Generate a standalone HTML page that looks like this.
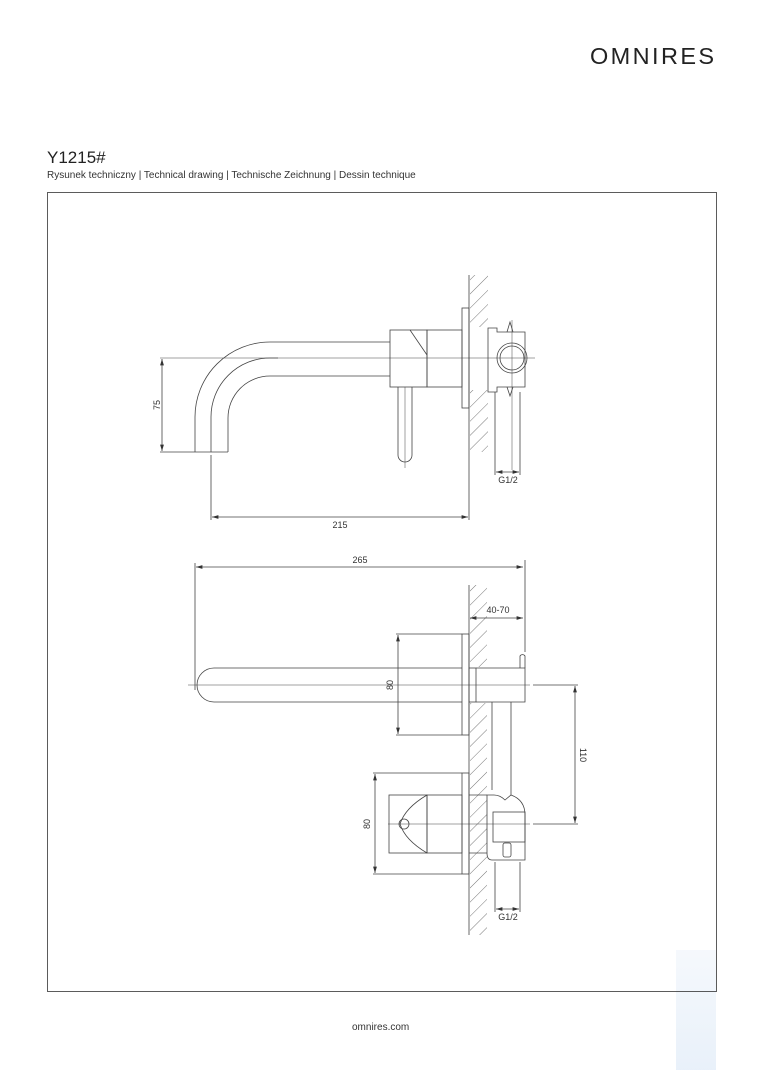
<!DOCTYPE html>
<html><head><meta charset="utf-8"><style>
body{margin:0;background:#fff;width:764px;height:1080px;overflow:hidden;position:relative;font-family:"Liberation Sans",sans-serif;color:#222}
.t{position:absolute;white-space:nowrap}
</style></head><body>
<div class="t" style="left:590px;top:43px;font-size:23.5px;letter-spacing:2.4px;color:#222;line-height:1.15">OMNIRES</div>
<div class="t" style="left:47px;top:148px;font-size:17px;color:#222">Y1215#</div>
<div class="t" style="left:47px;top:170px;font-size:10px;color:#333">Rysunek techniczny | Technical drawing | Technische Zeichnung | Dessin technique</div>
<div class="t" style="left:352px;top:1022px;font-size:10px;color:#333">omnires.com</div>
<div style="position:absolute;left:676px;top:950px;width:40px;height:120px;background:linear-gradient(#f3f7fc,#e3edf8);opacity:.8"></div>
<svg width="764" height="1080" style="position:absolute;left:0;top:0" font-family="Liberation Sans, sans-serif" font-size="9" fill="none" stroke="#444" stroke-width="0.8">
<defs>
<pattern id="h" width="10" height="10" patternUnits="userSpaceOnUse" patternTransform="rotate(45)"><line x1="0" y1="0" x2="0" y2="10" stroke="#555" stroke-width="0.8"/></pattern>
<marker id="a" viewBox="0 0 10 6" refX="10" refY="3" markerWidth="8" markerHeight="5" orient="auto-start-reverse"><path d="M0,0L10,3L0,6z" fill="#333" stroke="none"/></marker>
</defs>
<rect x="47.5" y="192.5" width="669" height="799" stroke="#333"/>
<!-- TOP VIEW -->
<rect x="470" y="275" width="18" height="52" fill="url(#h)" stroke="none"/>
<rect x="470" y="390" width="18" height="62" fill="url(#h)" stroke="none"/>
<line x1="469" y1="275" x2="469" y2="520"/>
<rect x="462" y="308" width="7" height="100"/>
<line x1="160" y1="358" x2="535" y2="358" stroke-width="0.6"/>
<path d="M195,452 V417 A75,75 0 0 1 270,342 H390"/>
<path d="M211,452 V417 A59,59 0 0 1 270,358 H278" />
<path d="M228,452 V418 A42,42 0 0 1 270,376 H390"/>
<line x1="195" y1="452" x2="228" y2="452"/>
<rect x="390" y="330" width="37" height="57"/>
<path d="M410,330 L427,355"/>
<rect x="427" y="330" width="35" height="57"/>
<path d="M398,387 V455 A7,7 0 0 0 412,455 V387"/>
<line x1="405" y1="387" x2="405" y2="468" stroke-width="0.5"/>
<path d="M488,328 H497 V332 H525 V387 H497 V392 H488 Z"/>
<circle cx="512" cy="358" r="15"/><circle cx="512" cy="358" r="12"/>
<path d="M507,332 L510,322 L513,332 M507,387 L510,396 L513,387"/>
<line x1="512" y1="320" x2="512" y2="470" stroke-width="0.5"/>
<line x1="495" y1="392" x2="495" y2="475"/><line x1="520" y1="392" x2="520" y2="475"/>
<line x1="496" y1="472" x2="519" y2="472" marker-start="url(#a)" marker-end="url(#a)"/>
<line x1="160" y1="452" x2="195" y2="452"/>
<line x1="162" y1="359" x2="162" y2="451" marker-start="url(#a)" marker-end="url(#a)"/>
<line x1="211" y1="455" x2="211" y2="520"/>
<line x1="212" y1="517" x2="468" y2="517" marker-start="url(#a)" marker-end="url(#a)"/>
<!-- BOTTOM VIEW -->
<rect x="470" y="585" width="17" height="82" fill="url(#h)" stroke="none"/>
<rect x="470" y="703" width="17" height="232" fill="url(#h)" stroke="none"/>
<line x1="469" y1="585" x2="469" y2="935"/>
<line x1="196" y1="567" x2="523" y2="567" marker-start="url(#a)" marker-end="url(#a)"/>
<line x1="195" y1="563" x2="195" y2="690"/>
<line x1="525" y1="560" x2="525" y2="652"/>
<line x1="470" y1="618" x2="523" y2="618" marker-start="url(#a)" marker-end="url(#a)"/>
<rect x="462" y="634" width="7" height="101"/>
<line x1="396" y1="634" x2="462" y2="634"/><line x1="396" y1="735" x2="462" y2="735"/>
<line x1="398" y1="635" x2="398" y2="734" marker-start="url(#a)" marker-end="url(#a)"/>
<path d="M462,668 H214 A17,17 0 0 0 214,702 H462"/>
<line x1="188" y1="685" x2="530" y2="685" stroke-width="0.6"/>
<line x1="533" y1="685" x2="578" y2="685"/>
<rect x="469" y="668" width="7" height="34"/>
<path d="M476,668 H525 V702 H476"/>
<path d="M520,668 V656 A3,3 0 0 1 525,656 V668"/>
<path d="M492,702 V790 M511,702 V795"/>
<rect x="462" y="773" width="7" height="101"/>
<line x1="373" y1="773" x2="462" y2="773"/><line x1="373" y1="874" x2="462" y2="874"/>
<line x1="375" y1="774" x2="375" y2="873" marker-start="url(#a)" marker-end="url(#a)"/>
<rect x="389" y="795" width="38" height="58"/>
<rect x="427" y="795" width="35" height="58"/>
<line x1="469" y1="795" x2="487" y2="795"/><line x1="469" y1="853" x2="487" y2="853"/>
<path d="M427,795 Q405,808 400,824 Q405,840 427,853"/>
<circle cx="404" cy="824" r="5"/>
<path d="M487,795 H494 Q500,795 505,800 L511,795 Q525,800 525,815 V860 H492 Q487,860 487,853 Z"/>
<rect x="493" y="812" width="32" height="30"/>
<rect x="503" y="843" width="8" height="14" rx="2"/>
<line x1="388" y1="824" x2="530" y2="824" stroke-width="0.6"/>
<line x1="533" y1="824" x2="578" y2="824"/>
<line x1="575" y1="686" x2="575" y2="823" marker-start="url(#a)" marker-end="url(#a)"/>
<line x1="495" y1="862" x2="495" y2="912"/><line x1="520" y1="862" x2="520" y2="912"/>
<line x1="496" y1="909" x2="519" y2="909" marker-start="url(#a)" marker-end="url(#a)"/>
<g fill="#333" stroke="none" font-size="9">
<text x="508" y="483" text-anchor="middle">G1/2</text>
<text x="340" y="528" text-anchor="middle">215</text>
<text x="160" y="405" text-anchor="middle" transform="rotate(-90 160 405)">75</text>
<text x="360" y="563" text-anchor="middle">265</text>
<text x="498" y="613" text-anchor="middle">40-70</text>
<text x="393" y="685" text-anchor="middle" transform="rotate(-90 393 685)">80</text>
<text x="370" y="824" text-anchor="middle" transform="rotate(-90 370 824)">80</text>
<text x="580" y="755" text-anchor="middle" transform="rotate(90 580 755)">110</text>
<text x="508" y="920" text-anchor="middle">G1/2</text>
</g>
</svg>
</body></html>
